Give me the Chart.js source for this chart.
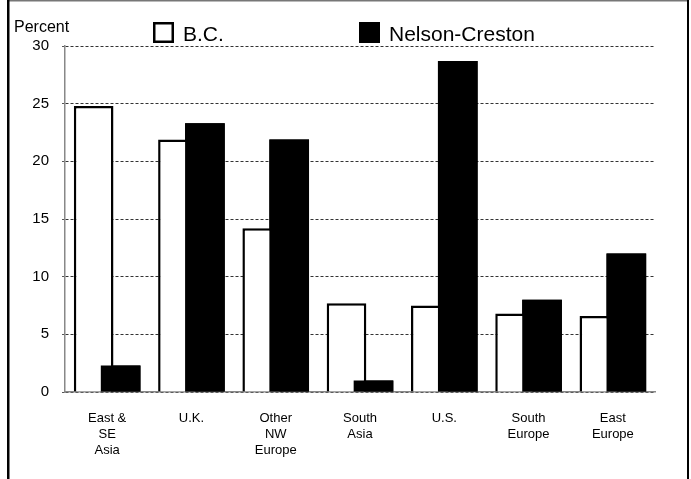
<!DOCTYPE html>
<html>
<head>
<meta charset="utf-8">
<script src="https://cdn.jsdelivr.net/npm/chart.js@4/dist/chart.umd.min.js"></script>
<style>
  html, body { margin: 0; padding: 0; background: #fff; }
  #wrap { position: absolute; left: 0; top: 0; width: 691px; height: 479px; }
</style>
</head>
<body>
<div id="wrap"><canvas id="c" width="691" height="479"></canvas></div>
<script>
const categories = [["East &", "SE", "Asia"], "U.K.", ["Other", "NW", "Europe"], ["South", "Asia"], "U.S.", ["South", "Europe"], ["East", "Europe"]];
const bcValues = [24.8, 21.9, 14.2, 7.7, 7.5, 6.8, 6.6];
const nelsonValues = [2.3, 23.3, 21.9, 1.0, 28.7, 8.0, 12.0];
const seriesNames = ["B.C.", "Nelson-Creston"];
const yTicks = [0, 5, 10, 15, 20, 25, 30];
const yTitle = "Percent";

const FONT = "'Liberation Sans', Arial, sans-serif";

const decorPlugin = {
  id: 'decor',
  afterDatasetsDraw(chart) {
    // draw the second series on top of the first, as in the reference
    const ctx = chart.ctx;
    const a = chart.chartArea;
    ctx.save();
    ctx.beginPath();
    ctx.rect(a.left, a.top - 5, a.right - a.left, a.bottom - a.top + 5);
    ctx.clip();
    chart.getDatasetMeta(1).controller.draw();
    ctx.restore();
  },
  afterDraw(chart) {
    const ctx = chart.ctx;
    ctx.save();
    // outer frame
    ctx.fillStyle = '#777';
    ctx.fillRect(7, 0, 682, 1.5);
    ctx.fillStyle = '#000';
    ctx.fillRect(7, 0, 2.5, 479);
    ctx.fillRect(687, 0, 2, 479);
    // y title
    ctx.fillStyle = '#000';
    ctx.font = "16px " + FONT;
    ctx.textBaseline = 'alphabetic';
    ctx.textAlign = 'left';
    ctx.fillText(yTitle, 14, 32);
    // legend
    const legendX = [153, 359];
    chart.data.datasets.forEach((ds, i) => {
      const x = legendX[i], y = 22, s = 21;
      ctx.fillStyle = ds.backgroundColor;
      ctx.fillRect(x, y, s, s);
      ctx.lineWidth = 2.5;
      ctx.strokeStyle = '#000';
      ctx.strokeRect(x + 1.25, y + 1.25, s - 2.5, s - 2.5);
      ctx.fillStyle = '#000';
      ctx.font = "21px " + FONT;
      ctx.fillText(ds.label, x + s + 9, y + 19);
    });
    ctx.restore();
  }
};

new Chart(document.getElementById('c'), {
  type: 'bar',
  data: {
    labels: categories,
    datasets: [
      { label: seriesNames[0], data: bcValues, backgroundColor: '#ffffff', borderColor: '#000000', borderWidth: 2.5, borderSkipped: 'bottom' },
      { label: seriesNames[1], data: nelsonValues, backgroundColor: '#000000', borderColor: '#000000', borderWidth: 0 }
    ]
  },
  options: {
    responsive: false,
    animation: false,
    devicePixelRatio: 1,
    categoryPercentage: 0.64,
    barPercentage: 1.47,
    layout: { padding: { left: 0, top: 46, right: 36, bottom: 0 } },
    plugins: { legend: { display: false }, tooltip: { enabled: false }, title: { display: false } },
    scales: {
      x: {
        grid: { display: false, drawTicks: false },
        border: { display: true, color: '#888', width: 1.5 },
        ticks: { color: '#000', font: { family: FONT, size: 13, lineHeight: '16px' }, padding: 18, maxRotation: 0, autoSkip: false },
        afterFit(s) { s.height = 87; }
      },
      y: {
        min: 0, max: 30,
        afterBuildTicks(s) { s.ticks = yTicks.map(v => ({ value: v })); },
        grid: { color: '#333', lineWidth: 1, drawTicks: true, tickLength: 3, tickColor: '#555', tickBorderDash: [] },
        border: { display: true, color: '#888', width: 1.5, dash: [3, 2] },
        ticks: { color: '#000', font: { family: FONT, size: 15 }, padding: 13 },
        afterFit(s) { s.width = 65; }
      }
    }
  },
  plugins: [decorPlugin]
});
</script>
</body>
</html>
